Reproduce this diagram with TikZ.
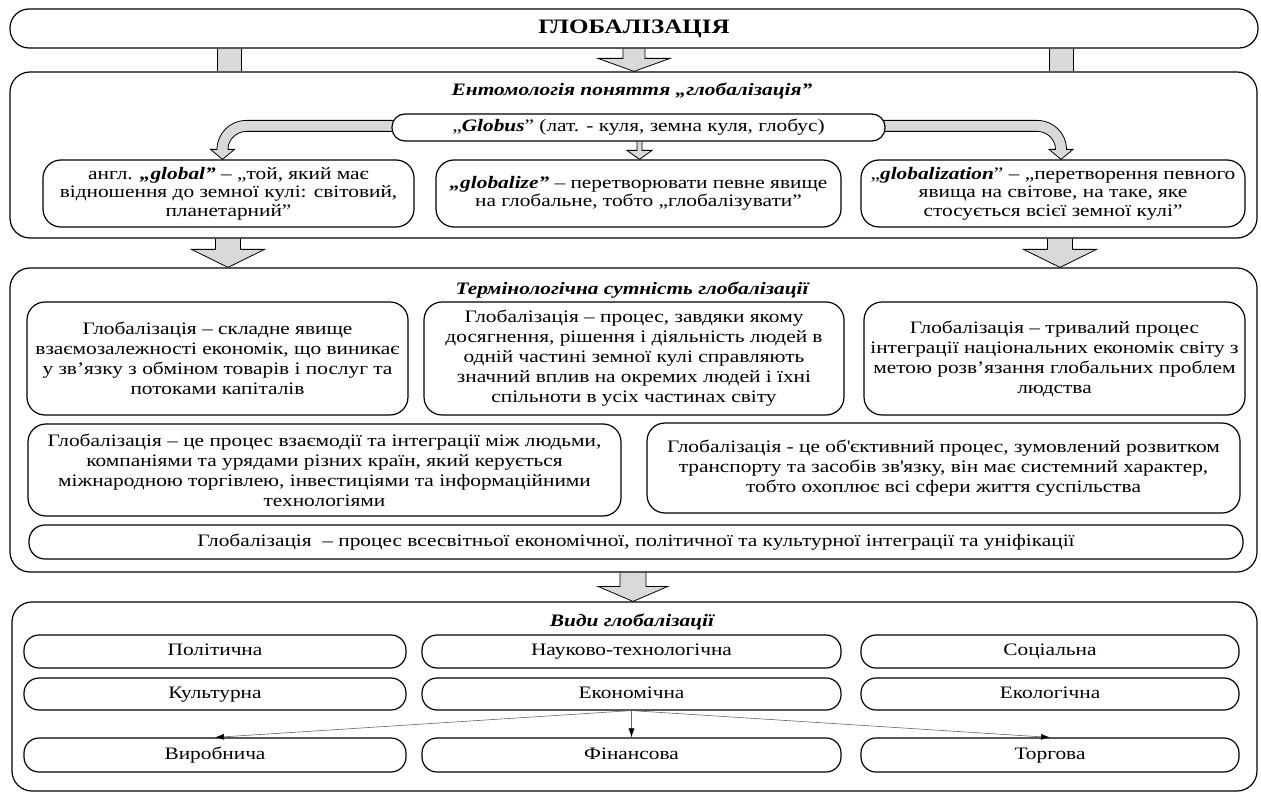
\documentclass[tikz,border=0pt]{standalone}
\usepackage{fontspec}
\setmainfont{Liberation Serif}[FakeStretch=1.22]
\usetikzlibrary{calc,arrows.meta}
\pgfdeclarelayer{background}
\pgfsetlayers{background,main}
\tikzset{
 rbox/.style={draw, line width=1.2pt, rounded corners=18pt, align=center, inner sep=0pt, fill=white, font=\fontsize{17.5}{20}\selectfont},
 gbox/.style={rbox, font=\fontsize{17.5}{18.5}\selectfont},
 sbox/.style={draw, line width=1.2pt, rounded corners=20pt, inner sep=0pt},
 pill/.style={rbox, rounded corners=15pt, text height=11.5pt, text depth=3.5pt},
 ttl/.style={font=\fontsize{17.5}{19.5}\selectfont\bfseries\itshape, inner sep=0pt},
 barrow/.style={fill=gray!30, draw=black, line width=0.8pt, line join=miter},
 thinarrow/.style={draw=black!60, line width=0.6pt, -{Latex[length=9pt,width=6pt,black]}},
}
\newcommand{\bx}[1]{\textbf{\textit{#1}}}
\newcommand{\blockarr}[6]{%
  \filldraw[barrow] let \p1=(#1,0 |- #2), \p2=(#1,0 |- #3) in
   (\x1-#4pt,\y1) -- (\x1-#4pt,\y2+#6pt) -- (\x1-#5pt,\y2+#6pt) -- (\x2,\y2) -- (\x1+#5pt,\y2+#6pt) -- (\x1+#4pt,\y2+#6pt) -- (\x1+#4pt,\y1);
}
\newcommand{\stubbar}[4]{%
  \fill[gray!30] let \p1=(#1,0 |- #2), \p2=(#1,0 |- #3) in (\x1-#4pt,\y1) rectangle (\x1+#4pt,\y2);
  \draw[line width=0.8pt] let \p1=(#1,0 |- #2), \p2=(#1,0 |- #3) in (\x1-#4pt,\y1) -- (\x1-#4pt,\y2) (\x1+#4pt,\y1) -- (\x1+#4pt,\y2);
}
\begin{document}
\begin{tikzpicture}[x=1pt,y=-1pt]
\useasboundingbox (0,0) rectangle (1261,794);
% top
\node[sbox, fill=white, rounded corners=19pt, minimum width=1248pt, minimum height=39pt, font=\fontsize{20.5}{22}\selectfont\bfseries] (top) at (634,28.5) {ГЛОБАЛІЗАЦІЯ};
% section 1
\node[sbox, minimum width=1247pt, minimum height=166pt] (s1) at (633.5,155) {};
\node[ttl] (t1) at (632,91) {Ентомологія поняття „глобалізація”};
\node[rbox, rounded corners=13pt, minimum width=493pt, minimum height=27pt] (globus) at (638.5,127.5) {„\bx{Globus}” (лат. - куля, земна куля, глобус)};
\node[gbox, minimum width=371pt, minimum height=67pt] (g1) at (228.5,193.5) {англ. \bx{„global”} – „той, який має\\відношення до земної кулі: світовий,\\планетарний”};
\node[gbox, minimum width=405pt, minimum height=67pt] (g2) at (638.5,193.5) {\bx{„globalize”} – перетворювати певне явище\\на глобальне, тобто „глобалізувати”};
\node[gbox, minimum width=384pt, minimum height=67pt] (g3) at (1053,193.5) {„\bx{globalization}” – „перетворення певного\\явища на світове, на таке, яке\\стосується всієї земної кулі”};
% section 2
\node[sbox, minimum width=1247pt, minimum height=304pt] (s2) at (633.5,420) {};
\node[ttl] (t2) at (632,290) {Термінологічна сутність глобалізації};
\node[rbox, minimum width=381pt, minimum height=113pt] (b1) at (217.5,358.5) {Глобалізація – складне явище\\взаємозалежності економік, що виникає\\у зв’язку з обміном товарів і послуг та\\потоками капіталів};
\node[rbox, minimum width=420pt, minimum height=113pt] (b2) at (634,358.5) {Глобалізація – процес, завдяки якому\\досягнення, рішення і діяльність людей в\\одній частині земної кулі справляють\\значний вплив на окремих людей і їхні\\спільноти в усіх частинах світу};
\node[rbox, minimum width=381pt, minimum height=113pt] (b3) at (1054.5,358.5) {Глобалізація – тривалий процес\\інтеграції національних економік світу з\\метою розв’язання глобальних проблем\\людства};
\node[rbox, minimum width=593pt, minimum height=92pt] (b4) at (324.5,470) {Глобалізація – це процес взаємодії та інтеграції між людьми,\\компаніями та урядами різних країн, який керується\\міжнародною торгівлею, інвестиціями та інформаційними\\технологіями};
\node[rbox, minimum width=593pt, minimum height=90pt] (b5) at (943.5,468) {Глобалізація - це об\textquotesingle єктивний процес, зумовлений розвитком\\транспорту та засобів зв\textquotesingle язку, він має системний характер,\\тобто охоплює всі сфери життя суспільства};
\node[pill, rounded corners=16pt, minimum width=1214pt, minimum height=34pt] (b6) at (636,542) {Глобалізація \ – процес всесвітньої економічної, політичної та культурної інтеграції та уніфікації};
% section 3
\node[sbox, minimum width=1245pt, minimum height=189pt] (s3) at (634.5,696.5) {};
\node[ttl] (t3) at (632,622) {Види глобалізації};
\node[pill, minimum width=382pt, minimum height=33pt] (pol) at (215,651.5) {Політична};
\node[pill, minimum width=419pt, minimum height=33pt] (nauk) at (631.5,651.5) {Науково-технологічна};
\node[pill, minimum width=378pt, minimum height=33pt] (soc) at (1050,651.5) {Соціальна};
\node[pill, minimum width=382pt, minimum height=32pt] (kult) at (215,694) {Культурна};
\node[pill, minimum width=419pt, minimum height=32pt] (econ) at (631.5,694) {Економічна};
\node[pill, minimum width=378pt, minimum height=32pt] (ekol) at (1050,694) {Екологічна};
\node[pill, minimum width=382pt, minimum height=34pt] (vyr) at (215,755) {Виробнича};
\node[pill, minimum width=419pt, minimum height=34pt] (fin) at (631.5,755) {Фінансова};
\node[pill, minimum width=378pt, minimum height=34pt] (torg) at (1050,755) {Торгова};
% connectors
\begin{pgfonlayer}{background}
\stubbar{229}{top.south}{s1.north}{12}
\stubbar{1061}{top.south}{s1.north}{12}
\blockarr{634}{top.south}{s1.north}{11}{36}{13}
\blockarr{639.5}{globus.south}{g2.north}{2.5}{12.5}{9}
\coordinate (lt) at (222.5,0 |- g1.north);
\coordinate (rt) at (1061,0 |- g3.north);
\begin{scope}[shift={(lt)}]
\filldraw[barrow] (177.5,-39) -- (24,-39) .. controls (7.5,-39) and (-5.5,-26) .. (-5.5,-10) -- (-12,-10) -- (0,0) -- (12,-10) -- (5.5,-10) .. controls (5.5,-20) and (14,-28) .. (24,-28) -- (177.5,-28) -- cycle;
\end{scope}
\begin{scope}[shift={(rt)}]
\filldraw[barrow] (-184,-39) -- (-24,-39) .. controls (-7.5,-39) and (5.5,-26) .. (5.5,-10) -- (12,-10) -- (0,0) -- (-12,-10) -- (-5.5,-10) .. controls (-5.5,-20) and (-14,-28) .. (-24,-28) -- (-184,-28) -- cycle;
\end{scope}
\blockarr{228}{s1.south}{s2.north}{12.5}{36.5}{18}
\blockarr{1060}{s1.south}{s2.north}{12.5}{36.5}{18}
\blockarr{633}{s2.south}{s3.north}{13}{35}{15}
\end{pgfonlayer}
\draw[thinarrow] (econ.south) -- (vyr.north);
\draw[thinarrow] (econ.south) -- (fin.north);
\draw[thinarrow] (econ.south) -- (torg.north);
\end{tikzpicture}
\end{document}
